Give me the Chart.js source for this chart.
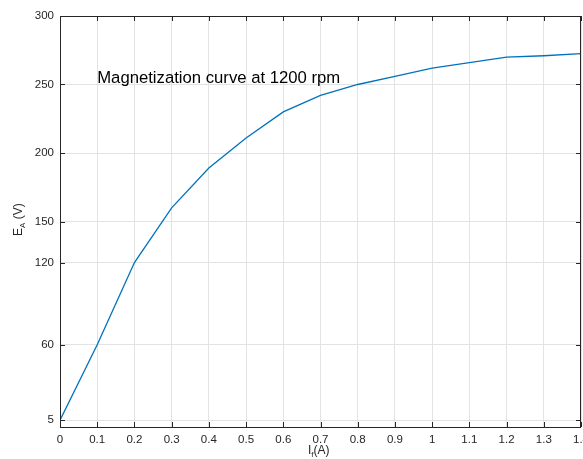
<!DOCTYPE html>
<html>
<head>
<meta charset="utf-8">
<script src="https://cdn.jsdelivr.net/npm/chart.js@4/dist/chart.umd.min.js"></script>
<style>
  html, body { margin: 0; padding: 0; background: #fff; }
  #wrap { width: 583px; height: 459px; position: relative; }
</style>
</head>
<body>
<div id="wrap"><canvas id="chart"></canvas></div>
<script>
// Data
const fieldCurrent = [0, 0.1, 0.2, 0.3, 0.4, 0.5, 0.6, 0.7, 0.8, 0.9, 1.0, 1.1, 1.2, 1.3, 1.4];
const armatureVoltage = [5, 60, 120, 160, 189, 211, 230, 242, 250, 256, 262, 266, 270, 271, 272.5];
const xTicks = [0, 0.1, 0.2, 0.3, 0.4, 0.5, 0.6, 0.7, 0.8, 0.9, 1, 1.1, 1.2, 1.3, 1.4];
const yTicks = [5, 60, 120, 150, 200, 250, 300];
const plotLabel = 'Magnetization curve at 1200 rpm';

const FONT = '"Liberation Sans", Arial, Helvetica, sans-serif';

// draws the box, inward ticks, the annotation and axis titles (with subscripts)
const matlabAxes = {
  id: 'matlabAxes',
  afterDraw(chart) {
    const { ctx, chartArea: a, scales: { x, y } } = chart;
    ctx.save();
    ctx.strokeStyle = '#262626';
    ctx.lineWidth = 1;
    ctx.beginPath();
    xTicks.forEach(v => {
      const px = Math.round(x.getPixelForValue(v)) + 0.5;
      ctx.moveTo(px, a.bottom); ctx.lineTo(px, a.bottom - 5);
      ctx.moveTo(px, a.top); ctx.lineTo(px, a.top + 5);
    });
    yTicks.forEach(v => {
      const py = Math.round(y.getPixelForValue(v)) + 0.5;
      ctx.moveTo(a.left, py); ctx.lineTo(a.left + 5, py);
      ctx.moveTo(a.right, py); ctx.lineTo(a.right - 5, py);
    });
    ctx.stroke();
    ctx.strokeRect(a.left + 0.5, a.top + 0.5, a.right - a.left - 1, a.bottom - a.top);

    ctx.fillStyle = '#000';
    ctx.font = '16.7px ' + FONT;
    ctx.textBaseline = 'alphabetic';
    ctx.textAlign = 'left';
    ctx.fillText(plotLabel, x.getPixelForValue(0.1), y.getPixelForValue(250) - 2);

    // x title I_f(A)
    ctx.fillStyle = '#262626';
    ctx.font = '12px ' + FONT;
    let tx = 308, ty = 454;
    ctx.fillText('I', tx, ty);
    tx += ctx.measureText('I').width;
    ctx.font = '8px ' + FONT;
    ctx.fillText('f', tx, ty + 3);
    tx += ctx.measureText('f').width;
    ctx.font = '12px ' + FONT;
    ctx.fillText('(A)', tx, ty);

    // y title E_A (V)
    ctx.translate(22, 236);
    ctx.rotate(-Math.PI / 2);
    tx = 0;
    ctx.fillText('E', tx, 0);
    tx += ctx.measureText('E').width;
    ctx.font = '8px ' + FONT;
    ctx.fillText('A', tx, 3);
    tx += ctx.measureText('A').width;
    ctx.font = '12px ' + FONT;
    ctx.fillText(' (V)', tx, 0);
    ctx.restore();
  }
};

new Chart(document.getElementById('chart'), {
  type: 'line',
  data: {
    datasets: [{
      data: fieldCurrent.map((f, i) => ({ x: f, y: armatureVoltage[i] })),
      borderColor: '#0072BD',
      borderWidth: 1.3,
      pointRadius: 0,
      tension: 0,
      fill: false
    }]
  },
  options: {
    responsive: true,
    maintainAspectRatio: false,
    animation: false,
    layout: { padding: { top: 16, right: 2, left: 0, bottom: 0 } },
    plugins: { legend: { display: false }, tooltip: { enabled: false } },
    scales: {
      x: {
        type: 'linear',
        min: 0,
        max: 1.4,
        afterBuildTicks: s => { s.ticks = xTicks.map(v => ({ value: v })); },
        afterFit: s => { s.height = 32; s.paddingLeft = 0; s.paddingRight = 0; },
        grid: { color: '#e3e3e3', drawTicks: false },
        border: { display: false },
        ticks: {
          color: '#262626',
          font: { family: FONT, size: 11.5 },
          padding: 6,
          maxRotation: 0,
          autoSkip: false,
          callback: v => String(Number(v.toFixed(1)))
        }
      },
      y: {
        min: 0,
        max: 300,
        afterBuildTicks: s => { s.ticks = yTicks.map(v => ({ value: v })); },
        afterFit: s => { s.width = 60; s.paddingTop = 0; s.paddingBottom = 0; },
        grid: { color: '#e3e3e3', drawTicks: false },
        border: { display: false },
        ticks: {
          color: '#262626',
          font: { family: FONT, size: 11.5 },
          padding: 6,
          autoSkip: false
        }
      }
    }
  },
  plugins: [matlabAxes]
});
</script>
</body>
</html>
